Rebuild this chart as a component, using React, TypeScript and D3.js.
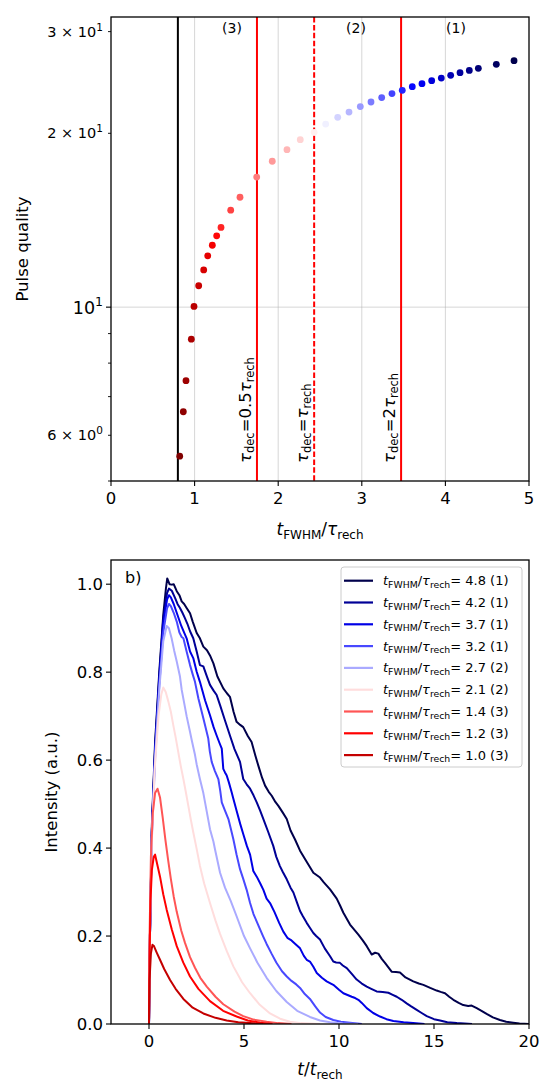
import React from 'react';
import * as d3 from 'd3';

// ---------- Panel a: pulse quality vs t_FWHM / tau_rech ----------
const qualityX = [0.822, 0.865, 0.897, 0.961, 0.993, 1.049, 1.109, 1.157, 1.212, 1.264, 1.316, 1.432, 1.543, 1.743, 1.929, 2.105, 2.264, 2.43, 2.568, 2.712, 2.847, 2.982, 3.11, 3.238, 3.361, 3.484, 3.604, 3.72, 3.836, 3.951, 4.063, 4.175, 4.286, 4.394, 4.609, 4.821];
const qualityY = [5.52, 6.59, 7.46, 8.8, 10.03, 10.89, 11.6, 12.27, 12.8, 13.29, 13.74, 14.72, 15.5, 16.8, 17.89, 18.74, 19.5, 20.08, 20.75, 21.32, 21.77, 22.25, 22.66, 23.06, 23.43, 23.74, 24.09, 24.38, 24.67, 24.93, 25.2, 25.47, 25.7, 25.91, 26.33, 26.72];
const cutoffX = 0.8;
const thresholdX = [1.746, 2.43, 3.47];
const thresholdFactor = ['0.5', '', '2'];
const regionX = [1.447, 2.93, 4.127];
const regionLabels = ['(3)', '(2)', '(1)'];
const topXTicks = [0, 1, 2, 3, 4, 5];
const topYMajor = [10];
const topYMinor = [5, 6, 7, 8, 9, 20, 30];
const topYMinorLabels = [6, 20, 30];

// ---------- Panel b: pulse shapes ----------
const legendRatios = ['4.8', '4.2', '3.7', '3.2', '2.7', '2.1', '1.4', '1.2', '1.0'];
const legendRegions = ['(1)', '(1)', '(1)', '(1)', '(2)', '(2)', '(3)', '(3)', '(3)'];

const pulse48: [number, number][] = [[0,0],[0.05,0.2],[0.15,0.45],[0.32,0.64],[0.54,0.8],[0.75,0.93],[0.89,0.99],[0.96,1.013],[1.08,1.0],[1.19,0.999],[1.3,1.0],[1.46,0.984],[1.6,0.975],[1.72,0.961],[1.85,0.955],[1.98,0.946],[2.16,0.934],[2.3,0.915],[2.51,0.889],[2.68,0.877],[2.86,0.858],[3.05,0.85],[3.21,0.838],[3.39,0.82],[3.6,0.79],[3.91,0.763],[4.1,0.752],[4.26,0.744],[4.45,0.71],[4.61,0.687],[4.8,0.68],[4.96,0.675],[5.2,0.655],[5.4,0.641],[5.6,0.61],[5.75,0.588],[5.95,0.56],[6.11,0.542],[6.3,0.528],[6.46,0.519],[6.65,0.505],[6.81,0.496],[7.05,0.48],[7.25,0.466],[7.45,0.44],[7.68,0.42],[7.95,0.394],[8.21,0.375],[8.45,0.358],[8.65,0.344],[9.0,0.333],[9.2,0.322],[9.53,0.306],[9.88,0.285],[10.05,0.27],[10.23,0.253],[10.58,0.226],[11.02,0.203],[11.25,0.19],[11.46,0.177],[11.72,0.158],[11.9,0.162],[12.07,0.16],[12.25,0.148],[12.42,0.139],[12.77,0.119],[13.0,0.118],[13.21,0.117],[13.5,0.106],[13.91,0.097],[14.2,0.092],[14.44,0.089],[14.8,0.082],[15.14,0.076],[15.35,0.073],[15.58,0.07],[15.8,0.062],[16.02,0.055],[16.3,0.048],[16.54,0.043],[16.8,0.041],[16.98,0.042],[17.25,0.036],[17.5,0.03],[17.77,0.023],[18.1,0.015],[18.47,0.009],[18.8,0.005],[19.17,0.003],[19.5,0.001],[20,0]];
const pulse42: [number, number][] = [[0,0],[0.05,0.2],[0.15,0.44],[0.32,0.63],[0.54,0.79],[0.75,0.92],[0.95,0.98],[1.05,0.99],[1.2,0.985],[1.37,0.969],[1.5,0.955],[1.63,0.946],[1.76,0.935],[1.89,0.923],[2.02,0.91],[2.16,0.893],[2.33,0.877],[2.51,0.847],[2.68,0.816],[2.86,0.813],[3.05,0.79],[3.21,0.771],[3.4,0.758],[3.56,0.748],[3.74,0.725],[4.0,0.69],[4.26,0.656],[4.5,0.625],[4.79,0.596],[4.96,0.557],[5.14,0.545],[5.32,0.535],[5.5,0.52],[5.67,0.504],[5.85,0.485],[6.02,0.466],[6.28,0.436],[6.54,0.405],[6.7,0.38],[6.89,0.359],[7.05,0.345],[7.25,0.329],[7.45,0.31],[7.6,0.299],[7.8,0.275],[7.95,0.257],[8.1,0.245],[8.3,0.23],[8.45,0.22],[8.65,0.207],[8.8,0.2],[9.0,0.192],[9.25,0.172],[9.53,0.154],[9.7,0.142],[9.85,0.14],[10.05,0.139],[10.2,0.133],[10.41,0.127],[10.65,0.115],[10.93,0.101],[11.2,0.092],[11.46,0.085],[11.7,0.08],[11.98,0.074],[12.3,0.073],[12.6,0.071],[12.8,0.067],[13.04,0.062],[13.3,0.055],[13.56,0.047],[13.8,0.04],[14.09,0.032],[14.35,0.025],[14.62,0.018],[15.0,0.011],[15.32,0.008],[15.7,0.004],[16.2,0.002],[17.0,0]];
const pulse37: [number, number][] = [[0,0],[0.05,0.2],[0.15,0.44],[0.32,0.62],[0.54,0.78],[0.75,0.91],[0.95,0.965],[1.05,0.975],[1.15,0.97],[1.3,0.955],[1.5,0.93],[1.7,0.905],[1.85,0.89],[1.98,0.877],[2.16,0.847],[2.33,0.832],[2.51,0.801],[2.68,0.778],[2.95,0.736],[3.21,0.702],[3.4,0.675],[3.56,0.656],[3.7,0.64],[3.83,0.626],[3.91,0.58],[4.0,0.572],[4.09,0.565],[4.2,0.55],[4.35,0.527],[4.44,0.512],[4.61,0.485],[4.8,0.455],[4.96,0.432],[5.15,0.405],[5.32,0.385],[5.49,0.348],[5.67,0.335],[5.85,0.32],[6.02,0.305],[6.19,0.285],[6.37,0.275],[6.6,0.255],[6.85,0.23],[7.07,0.21],[7.3,0.195],[7.5,0.19],[7.7,0.182],[7.95,0.172],[8.15,0.155],[8.3,0.146],[8.47,0.142],[8.65,0.13],[8.83,0.116],[9.1,0.105],[9.35,0.097],[9.7,0.089],[10.0,0.078],[10.23,0.07],[10.45,0.066],[10.67,0.062],[10.85,0.059],[11.02,0.055],[11.2,0.048],[11.46,0.036],[11.8,0.025],[12.16,0.017],[12.5,0.011],[12.86,0.007],[13.4,0.004],[13.9,0.002],[14.5,0]];
const pulse32: [number, number][] = [[0,0],[0.05,0.2],[0.15,0.43],[0.32,0.61],[0.54,0.77],[0.75,0.89],[0.95,0.945],[1.05,0.955],[1.15,0.95],[1.3,0.935],[1.46,0.915],[1.6,0.89],[1.72,0.88],[1.81,0.877],[1.98,0.847],[2.16,0.816],[2.3,0.795],[2.42,0.778],[2.6,0.74],[2.86,0.695],[3.12,0.649],[3.2,0.62],[3.3,0.596],[3.47,0.575],[3.65,0.557],[3.75,0.53],[3.83,0.504],[4.0,0.485],[4.18,0.466],[4.3,0.445],[4.44,0.42],[4.61,0.385],[4.79,0.352],[4.96,0.33],[5.14,0.305],[5.32,0.275],[5.5,0.25],[5.75,0.225],[6.0,0.2],[6.19,0.182],[6.45,0.16],[6.7,0.14],[7.0,0.12],[7.25,0.108],[7.5,0.098],[7.75,0.09],[7.95,0.082],[8.2,0.068],[8.47,0.057],[8.75,0.04],[9.0,0.026],[9.3,0.016],[9.7,0.009],[10.1,0.005],[10.58,0.003],[11.2,0]];
const pulse27: [number, number][] = [[0,0],[0.05,0.2],[0.15,0.42],[0.32,0.6],[0.54,0.76],[0.75,0.87],[0.93,0.905],[1.05,0.9],[1.19,0.877],[1.32,0.85],[1.46,0.824],[1.63,0.79],[1.72,0.76],[1.85,0.73],[1.98,0.7],[2.16,0.664],[2.25,0.645],[2.42,0.612],[2.51,0.59],[2.68,0.557],[2.86,0.525],[2.95,0.504],[3.21,0.443],[3.39,0.415],[3.47,0.398],[3.74,0.344],[4.0,0.31],[4.3,0.28],[4.61,0.245],[5.0,0.2],[5.32,0.172],[5.7,0.14],[6.19,0.105],[6.7,0.075],[7.25,0.05],[7.8,0.03],[8.47,0.016],[9.0,0.008],[9.53,0.004],[10.2,0.001],[11,0]];
const pulse21: [number, number][] = [[0,0],[0.05,0.22],[0.15,0.42],[0.3,0.58],[0.5,0.7],[0.65,0.75],[0.75,0.765],[0.88,0.755],[1.02,0.733],[1.15,0.71],[1.28,0.679],[1.41,0.65],[1.54,0.618],[1.67,0.587],[1.81,0.557],[1.94,0.527],[2.07,0.496],[2.2,0.465],[2.33,0.436],[2.5,0.4],[2.68,0.36],[2.9,0.32],[3.21,0.275],[3.5,0.235],[3.74,0.205],[4.1,0.165],[4.44,0.131],[4.9,0.095],[5.32,0.07],[5.8,0.045],[6.37,0.024],[6.9,0.012],[7.42,0.005],[8.0,0.002],[9,0]];
const pulse14: [number, number][] = [[0,0],[0.03,0.2],[0.1,0.38],[0.2,0.48],[0.32,0.525],[0.45,0.535],[0.58,0.515],[0.72,0.47],[0.86,0.42],[1.0,0.375],[1.15,0.33],[1.3,0.29],[1.46,0.255],[1.7,0.212],[1.89,0.185],[2.16,0.152],[2.42,0.128],[2.7,0.105],[3.04,0.085],[3.5,0.062],[3.91,0.045],[4.5,0.028],[4.96,0.018],[5.5,0.01],[6.19,0.005],[6.8,0.002],[7.5,0]];
const pulse12: [number, number][] = [[0,0],[0.03,0.15],[0.08,0.28],[0.15,0.35],[0.25,0.38],[0.32,0.385],[0.45,0.36],[0.58,0.335],[0.75,0.295],[0.93,0.26],[1.2,0.215],[1.46,0.177],[1.8,0.14],[2.16,0.108],[2.6,0.08],[3.21,0.052],[3.9,0.03],[4.61,0.017],[5.2,0.008],[5.84,0.003],[6.5,0]];
const pulse10: [number, number][] = [[0,0],[0.03,0.1],[0.1,0.16],[0.18,0.18],[0.25,0.178],[0.4,0.163],[0.58,0.146],[0.8,0.125],[1.11,0.1],[1.4,0.08],[1.81,0.057],[2.3,0.037],[2.86,0.024],[3.5,0.014],[4.09,0.008],[4.7,0.004],[5.32,0.002],[6,0]];
const pulses = [pulse48, pulse42, pulse37, pulse32, pulse27, pulse21, pulse14, pulse12, pulse10];
const botXTicks = [0, 5, 10, 15, 20];
const botYTicks = [0, 0.2, 0.4, 0.6, 0.8, 1.0];

const FONT = 'DejaVu Sans, sans-serif';
const pulseColors = ['#00004c', '#000096', '#0000e6', '#4848ff', '#aaaaff', '#ffdddd', '#ff5555', '#ff0000', '#c40000'];

export default function App() {
  const W = 543, H = 1082;
  const L = 111, R = 529, T1 = 17, B1 = 481;
  const T2 = 560, B2 = 1024;
  const xA = d3.scaleLinear().domain([0, 5]).range([L, R]);
  const yA = d3.scaleLog().domain([5, 31.8]).range([B1, T1]);
  const cmap = d3.scaleLinear<string>()
    .domain([0, 0.25, 0.5, 0.75, 1])
    .range(['#800000', '#ff0000', '#ffffff', '#0000ff', '#00004d'])
    .interpolate(d3.interpolateRgb);
  const n = qualityX.length;

  const xB = d3.scaleLinear().domain([-2, 20]).range([L, R]);
  const yB = d3.scaleLinear().domain([0, 1.055]).range([B2, T2]);
  const line = d3.line<[number, number]>().x(d => xB(d[0])).y(d => yB(d[1]));

  const tickFs = 16.5;
  const legX = 341, legY = 567, legW = 181, legH = 200;
  const rowY = (i: number) => 580.7 + i * 21.8;

  return (
    <svg width={W} height={H} style={{ position: 'absolute', left: 0, top: 0, background: '#fff' }} fontFamily={FONT}>
      <rect x={0} y={0} width={W} height={H} fill="#fff" />
      {/* ===== Panel a ===== */}
      {topXTicks.slice(1, -1).map(t => (
        <line key={'gx' + t} x1={xA(t)} x2={xA(t)} y1={T1} y2={B1} stroke="#b0b0b0" strokeOpacity={0.5} strokeWidth={1} />
      ))}
      {topYMajor.map(v => (
        <line key={'gy' + v} x1={L} x2={R} y1={yA(v)} y2={yA(v)} stroke="#b0b0b0" strokeOpacity={0.5} strokeWidth={1} />
      ))}
      <line x1={xA(cutoffX)} x2={xA(cutoffX)} y1={T1} y2={B1} stroke="#000" strokeWidth={2} />
      {thresholdX.map((t, i) => (
        <line key={'th' + i} x1={xA(t)} x2={xA(t)} y1={T1} y2={B1} stroke="#ff0000" strokeWidth={2}
          strokeDasharray={i === 1 ? '5.5,2.4' : undefined} />
      ))}
      {thresholdX.map((t, i) => (
        <text key={'thl' + i} transform={`translate(${xA(t) - 6},463) rotate(-90)`} fontSize={16.5} fill="#000">
          <tspan fontStyle="italic">τ</tspan>
          <tspan fontSize={11.5} dy={3.3}>dec</tspan>
          <tspan dy={-3.3}>={thresholdFactor[i]}</tspan>
          <tspan fontStyle="italic">τ</tspan>
          <tspan fontSize={11.5} dy={3.3}>rech</tspan>
        </text>
      ))}
      {regionLabels.map((s, i) => (
        <text key={'rg' + i} x={xA(regionX[i])} y={33} fontSize={14} textAnchor="middle">{s}</text>
      ))}
      {qualityX.map((x, i) => (
        <circle key={'pt' + i} cx={xA(x)} cy={yA(qualityY[i])} r={3.4} fill={cmap(i / (n - 1))} />
      ))}
      {/* axes a */}
      <rect x={L} y={T1} width={R - L} height={B1 - T1} fill="none" stroke="#000" strokeWidth={1.3} />
      {topXTicks.map(t => (
        <g key={'xt' + t}>
          <line x1={xA(t)} x2={xA(t)} y1={B1} y2={B1 + 5} stroke="#000" strokeWidth={1.1} />
          <text x={xA(t)} y={B1 + 23} fontSize={tickFs} textAnchor="middle">{t}</text>
        </g>
      ))}
      {topYMajor.map(v => (
        <g key={'ytM' + v}>
          <line x1={L - 5} x2={L} y1={yA(v)} y2={yA(v)} stroke="#000" strokeWidth={1.1} />
          <text x={L - 8} y={yA(v) + 6.5} fontSize={17.5} textAnchor="end">10<tspan dy={-7.5} fontSize={12.5}>1</tspan></text>
        </g>
      ))}
      {topYMinor.map(v => (
        <line key={'ytm' + v} x1={L - 3} x2={L} y1={yA(v)} y2={yA(v)} stroke="#000" strokeWidth={0.9} />
      ))}
      {topYMinorLabels.map(v => {
        const mant = v >= 10 ? v / 10 : v;
        const ex = v >= 10 ? 1 : 0;
        return (
          <text key={'ytl' + v} x={L - 8} y={yA(v) + 5} fontSize={14.5} textAnchor="end">
            {mant} × 10<tspan dy={-6} fontSize={10.5}>{ex}</tspan>
          </text>
        );
      })}
      <text transform={`translate(28,249) rotate(-90)`} fontSize={16.5} textAnchor="middle">Pulse quality</text>
      <text x={320} y={535} fontSize={17} textAnchor="middle">
        <tspan fontStyle="italic">t</tspan>
        <tspan fontSize={12} dy={3.5}>FWHM</tspan>
        <tspan dy={-3.5}>/</tspan>
        <tspan fontStyle="italic">τ</tspan>
        <tspan fontSize={12} dy={3.5}>rech</tspan>
      </text>

      {/* ===== Panel b ===== */}
      <defs>
        <clipPath id="clipB"><rect x={L} y={T2} width={R - L} height={B2 - T2} /></clipPath>
      </defs>
      <g clipPath="url(#clipB)">
        {pulses.map((p, i) => (
          <path key={'pl' + i} d={line(p) || ''} fill="none" stroke={pulseColors[i]} strokeWidth={2} strokeLinejoin="round" />
        ))}
      </g>
      <rect x={L} y={T2} width={R - L} height={B2 - T2} fill="none" stroke="#000" strokeWidth={1.3} />
      {botXTicks.map(t => (
        <g key={'bxt' + t}>
          <line x1={xB(t)} x2={xB(t)} y1={B2} y2={B2 + 5} stroke="#000" strokeWidth={1.1} />
          <text x={xB(t)} y={B2 + 23} fontSize={tickFs} textAnchor="middle">{t}</text>
        </g>
      ))}
      {botYTicks.map(v => (
        <g key={'byt' + v}>
          <line x1={L - 5} x2={L} y1={yB(v)} y2={yB(v)} stroke="#000" strokeWidth={1.1} />
          <text x={L - 8} y={yB(v) + 6} fontSize={tickFs} textAnchor="end">{v.toFixed(1)}</text>
        </g>
      ))}
      <text x={125} y={583} fontSize={16}>b)</text>
      <text transform={`translate(57,792) rotate(-90)`} fontSize={16.5} textAnchor="middle">Intensity (a.u.)</text>
      <text x={320} y={1075} fontSize={17} textAnchor="middle">
        <tspan fontStyle="italic">t</tspan>
        <tspan>/</tspan>
        <tspan fontStyle="italic">t</tspan>
        <tspan fontSize={12} dy={3.5}>rech</tspan>
      </text>
      {/* legend */}
      <rect x={legX} y={legY} width={legW} height={legH} rx={3} fill="#fff" fillOpacity={0.8} stroke="#cccccc" strokeWidth={1} />
      {legendRatios.map((r, i) => (
        <g key={'lg' + i}>
          <line x1={344} x2={373} y1={rowY(i)} y2={rowY(i)} stroke={pulseColors[i]} strokeWidth={2.2} />
          <text x={383} y={rowY(i) + 4.5} fontSize={13}>
            <tspan fontStyle="italic">t</tspan>
            <tspan fontSize={9.3} dy={2.5}>FWHM</tspan>
            <tspan dy={-2.5}>/</tspan>
            <tspan fontStyle="italic">τ</tspan>
            <tspan fontSize={9.3} dy={2.5}>rech</tspan>
            <tspan dy={-2.5}>= {r} {legendRegions[i]}</tspan>
          </text>
        </g>
      ))}
    </svg>
  );
}
